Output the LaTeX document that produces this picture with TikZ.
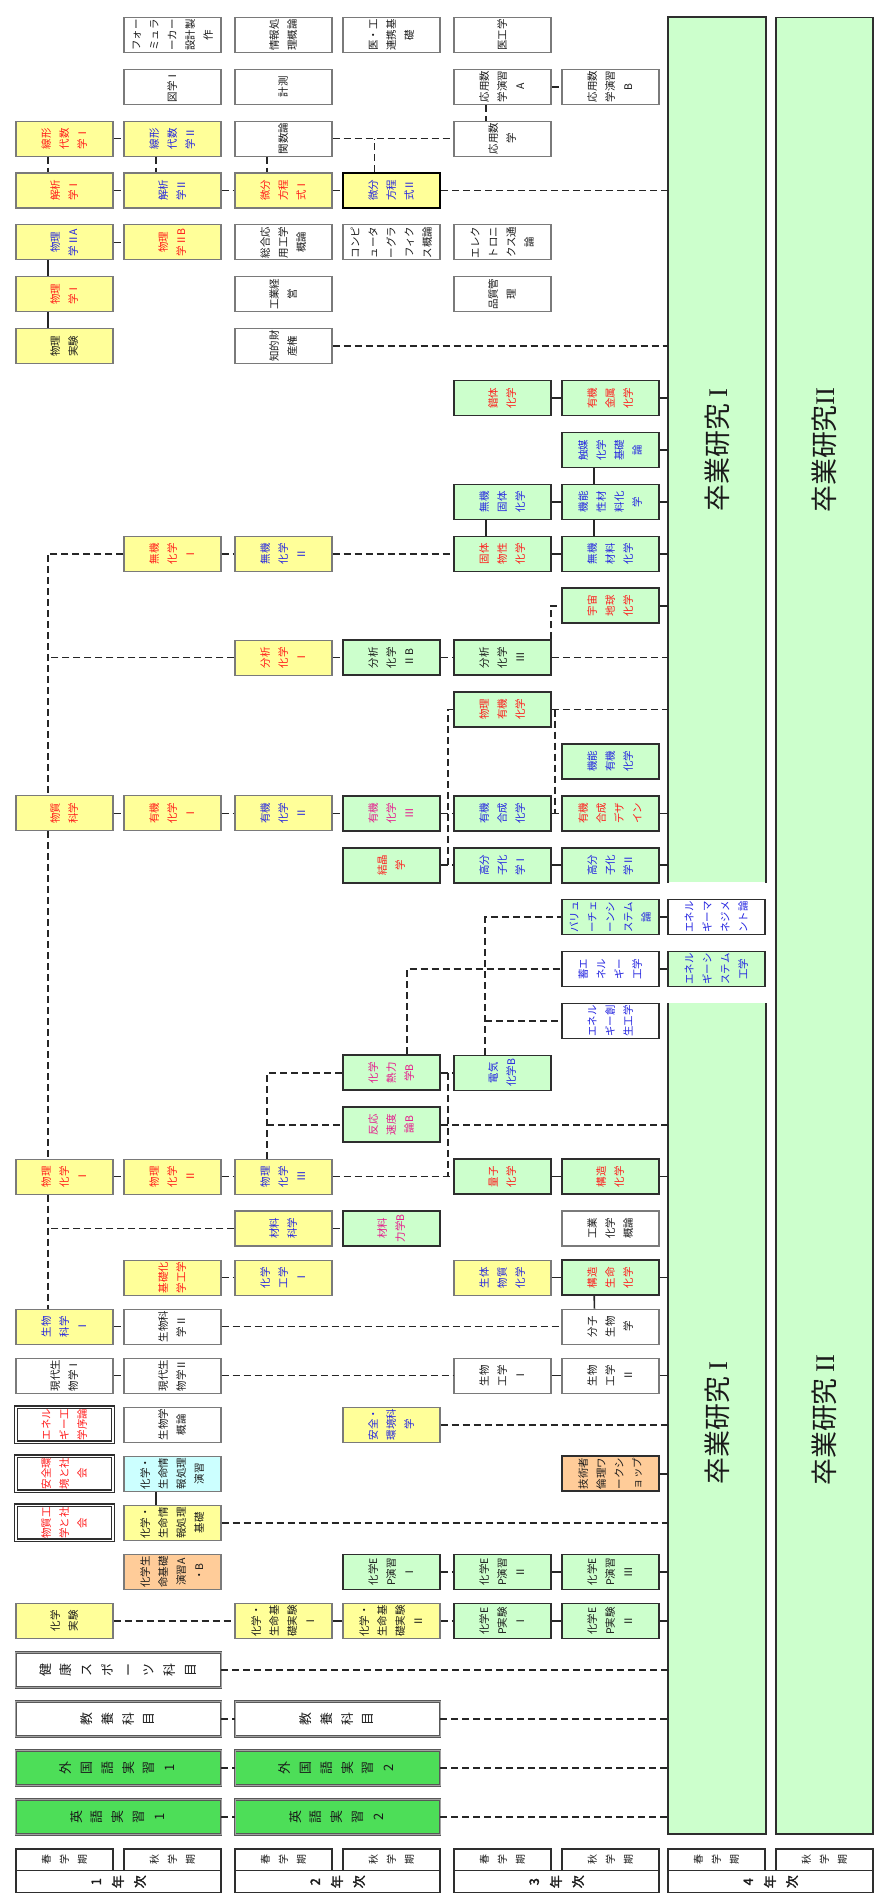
\documentclass[tikz,border=0pt]{standalone}
\usepackage{fontspec}
\setmainfont{Noto Sans CJK JP}[AutoFakeBold=2]
\newfontfamily\lserif{Liberation Serif}
\usepackage{graphicx}
\usetikzlibrary{calc}
\definecolor{cY}{HTML}{FFFF99}
\definecolor{cG}{HTML}{CCFFCC}
\definecolor{cGG}{HTML}{4DDE58}
\definecolor{cC}{HTML}{CCFFFF}
\definecolor{cO}{HTML}{FFCC99}
\definecolor{cR}{HTML}{FF1A1A}
\definecolor{cB}{HTML}{2424E0}
\definecolor{cM}{HTML}{E6198C}
\definecolor{cGray}{HTML}{7A7A7A}
\definecolor{cDark}{HTML}{2E2E2E}
\definecolor{cLine}{HTML}{262626}
\definecolor{cTxt}{HTML}{1A1A1A}
\newcommand\smallf{\fontsize{10.5}{11}\selectfont\def\arraystretch{1.64}}
\newcommand\langf{\fontsize{13}{13}\selectfont\def\arraystretch{1.6}}
\newcommand\hdf{\fontsize{10}{11}\selectfont\def\arraystretch{1.64}}
\newcommand\yrf{\fontsize{13}{13}\selectfont\bfseries\def\arraystretch{1.7}}
\newcommand\tx[1]{\rotatebox{90}{\begin{tabular}{@{}c@{}}#1\end{tabular}}}
\newcommand\cbx[5]{%
  \pgfmathsetmacro\bxx{{16,124,235,343,454,562,668,776}[#2]+48.5}%
  \pgfmathsetmacro\byy{ifthenelse(#3<24,17.3+51.9*#3,1211+49.05*(#3-23))+17.5}%
  \node[#4] (#1) at (\bxx,\byy) {\tx{#5}};}
\newcommand\wbx[5]{%
  \pgfmathsetmacro\bxx{{118.5,337.5}[#2]}%
  \pgfmathsetmacro\byy{1211+49.05*(#3-23)+17.5}%
  \node[#4] (#1) at (\bxx,\byy) {\tx{#5}};}
\tikzset{
  bx/.style={minimum width=97bp, minimum height=35bp, inner sep=0pt, font=\smallf, text=cTxt, line width=1.1bp},
  yb/.style={bx, fill=cY, draw=cGray},
  wb/.style={bx, fill=white, draw=cGray},
  wbd/.style={bx, fill=white, draw=cDark, line width=1.6bp},
  gb/.style={bx, fill=cG, draw=cDark, line width=1.6bp},
  gbt/.style={bx, fill=cG, draw=cDark, line width=2.2bp},
  db/.style={bx, fill=white, draw=cDark, double=white, double distance=1.4bp, line width=1.2bp},
  lb/.style={bx, minimum width=205bp, font=\langf, draw=cDark!80, double=cGray!70, double distance=1bp, line width=0.9bp},
  hd/.style={inner sep=0pt, fill=white, draw=cDark, line width=1.2bp, text=cTxt},
  tr/.style={text=cR}, tb/.style={text=cB}, tm/.style={text=cM},
  dl/.style={draw=cLine, line width=1.6bp, dash pattern=on 7bp off 4bp},
  sl/.style={draw=cLine, line width=1.6bp},
  big/.style={rotate=90, font=\fontsize{27}{28}\selectfont, text=cTxt, inner sep=0pt}
}
\begin{document}
\begin{tikzpicture}[x=1bp,y=-1bp]
\useasboundingbox (0,0) rectangle (875,1899);
\coordinate (spine) at (48.5,0);
\coordinate (g34) at (448,0);
\coordinate (g45) at (555,0);
% graduation research
\node[fill=cG, minimum width=98bp, minimum height=865bp, inner sep=0pt] (s1a) at (717,449.8) {};
\node[fill=cG, minimum width=98bp, minimum height=830.7bp, inner sep=0pt] (s1b) at (717,1418.65) {};
\node[fill=cG, draw=cDark, line width=1.5bp, minimum width=97bp, minimum height=1816.7bp, inner sep=0pt] (s2) at (824.5,925.65) {};
\draw[cDark, line width=1.5bp] (s1a.south west) -- (s1a.north west) -- (s1a.north east) -- (s1a.south east);
\draw[cDark, line width=1.5bp] (s1b.north west) -- (s1b.south west) -- (s1b.south east) -- (s1b.north east);
\node[big] (t1a) at (s1a) {卒業研究 {\lserif I}};
\node[big] (t1b) at (717,1423) {卒業研究 {\lserif I}};
\node[big] (t2a) at (824.5,450) {卒業研究{\lserif II}};
\node[big] (t2b) at (824.5,1420) {卒業研究 {\lserif II}};
% row 0
\cbx{fo}{1}{0}{wb}{フォー\\ミュラ\\ーカー\\設計製\\作}
\cbx{jo}{2}{0}{wb}{情報処\\理概論}
\cbx{ik}{3}{0}{wb}{医・工\\連携基\\礎}
\cbx{ikg}{4}{0}{wb}{医工学}
% row 1
\cbx{zu}{1}{1}{wb}{図学Ⅰ}
\cbx{kei}{2}{1}{wb}{計測}
\cbx{oa}{4}{1}{wb}{応用数\\学演習\\A}
\cbx{ob}{5}{1}{wb}{応用数\\学演習\\B}
% row 2
\cbx{ls1}{0}{2}{yb,tr}{線形\\代数\\学Ⅰ}
\cbx{ls2}{1}{2}{yb,tb}{線形\\代数\\学Ⅱ}
\cbx{kan}{2}{2}{wb}{関数論}
\cbx{ou}{4}{2}{wb}{応用数\\学}
% row 3
\cbx{ka1}{0}{3}{yb,tr}{解析\\学Ⅰ}
\cbx{ka2}{1}{3}{yb,tb}{解析\\学Ⅱ}
\cbx{bi1}{2}{3}{yb,tr}{微分\\方程\\式Ⅰ}
\cbx{bi2}{3}{3}{yb,tb,draw=black,line width=2.2bp}{微分\\方程\\式Ⅱ}
% row 4
\cbx{bua}{0}{4}{yb,tb}{物理\\学ⅡA}
\cbx{bub}{1}{4}{yb,tr}{物理\\学ⅡB}
\cbx{sog}{2}{4}{wb}{総合応\\用工学\\概論}
\cbx{cg}{3}{4}{wb}{コンピ\\ュータ\\ーグラ\\フィク\\ス概論}
\cbx{ele}{4}{4}{wb}{エレク\\トロニ\\クス通\\論}
% row 5
\cbx{bu1}{0}{5}{yb,tr}{物理\\学Ⅰ}
\cbx{kog}{2}{5}{wb}{工業経\\営}
\cbx{hin}{4}{5}{wb}{品質管\\理}
% row 6
\cbx{bj}{0}{6}{yb}{物理\\実験}
\cbx{chi}{2}{6}{wb}{知的財\\産権}
% rows 7-11
\cbx{sakt}{4}{7}{gb,tr}{錯体\\化学}
\cbx{yuk}{5}{7}{gb,tr}{有機\\金属\\化学}
\cbx{sho}{5}{8}{gb,tb}{触媒\\化学\\基礎\\論}
\cbx{mk}{4}{9}{gb,tb}{無機\\固体\\化学}
\cbx{kns}{5}{9}{gb,tb}{機能\\性材\\料化\\学}
\cbx{mu1}{1}{10}{yb,tr}{無機\\化学\\Ⅰ}
\cbx{mu2}{2}{10}{yb,tb}{無機\\化学\\Ⅱ}
\cbx{kob}{4}{10}{gb,tr}{固体\\物性\\化学}
\cbx{mz}{5}{10}{gb,tb}{無機\\材料\\化学}
\cbx{uc}{5}{11}{gb,tr}{宇宙\\地球\\化学}
% row 12-16
\cbx{bn1}{2}{12}{yb,tr}{分析\\化学\\Ⅰ}
\cbx{bn2}{3}{12}{gbt}{分析\\化学\\ⅡB}
\cbx{bn3}{4}{12}{gb}{分析\\化学\\Ⅲ}
\cbx{bky}{4}{13}{gb,tr}{物理\\有機\\化学}
\cbx{kny}{5}{14}{gb,tb}{機能\\有機\\化学}
\cbx{bsk}{0}{15}{yb,tr}{物質\\科学}
\cbx{yu1}{1}{15}{yb,tr}{有機\\化学\\Ⅰ}
\cbx{yu2}{2}{15}{yb,tb}{有機\\化学\\Ⅱ}
\cbx{yu3}{3}{15}{gbt,tm}{有機\\化学\\Ⅲ}
\cbx{yg}{4}{15}{gb,tb}{有機\\合成\\化学}
\cbx{yd}{5}{15}{gb,tr}{有機\\合成\\デザ\\イン}
\cbx{kes}{3}{16}{gbt,tr}{結晶\\学}
\cbx{kb1}{4}{16}{gb,tb}{高分\\子化\\学Ⅰ}
\cbx{kb2}{5}{16}{gb,tb}{高分\\子化\\学Ⅱ}
% rows 17-21
\cbx{val}{5}{17}{gb,tb}{バリュ\\ーチェ\\ーンシ\\ステム\\論}
\cbx{emg}{6}{17}{wbd,tb}{エネル\\ギーマ\\ネジメ\\ント論}
\cbx{chk}{5}{18}{wbd,tb}{蓄エ\\ネル\\ギー\\工学}
\cbx{esy}{6}{18}{gb,tb}{エネル\\ギーシ\\ステム\\工学}
\cbx{eso}{5}{19}{wbd,tb}{エネル\\ギー創\\生工学}
\cbx{nr}{3}{20}{gbt,tm}{化学\\熱力\\学B}
\cbx{dk}{4}{20}{gb,tb}{電気\\化学B}
\cbx{hs}{3}{21}{gbt,tm}{反応\\速度\\論B}
% row 22-23
\cbx{bk1}{0}{22}{yb,tr}{物理\\化学\\Ⅰ}
\cbx{bk2}{1}{22}{yb,tr}{物理\\化学\\Ⅱ}
\cbx{bk3}{2}{22}{yb,tb}{物理\\化学\\Ⅲ}
\cbx{rs}{4}{22}{gb,tr}{量子\\化学}
\cbx{kz}{5}{22}{gb,tr}{構造\\化学}
\cbx{zk}{2}{23}{yb,tb}{材料\\科学}
\cbx{zr}{3}{23}{gbt,tm}{材料\\力学B}
\cbx{kgg}{5}{23}{wb}{工業\\化学\\概論}
% rows 24-26
\cbx{kkk}{1}{24}{yb,tr}{基礎化\\学工学}
\cbx{kk1}{2}{24}{yb,tb}{化学\\工学\\Ⅰ}
\cbx{sbk}{4}{24}{yb,tb}{生体\\物質\\化学}
\cbx{ksm}{5}{24}{gb,tr}{構造\\生命\\化学}
\cbx{sb1}{0}{25}{yb,tb}{生物\\科学\\Ⅰ}
\cbx{sb2}{1}{25}{wb}{生物科\\学Ⅱ}
\cbx{bs}{5}{25}{wb}{分子\\生物\\学}
\cbx{gd1}{0}{26}{wb}{現代生\\物学Ⅰ}
\cbx{gd2}{1}{26}{wb}{現代生\\物学Ⅱ}
\cbx{sko1}{4}{26}{wb}{生物\\工学\\Ⅰ}
\cbx{sko2}{5}{26}{wb}{生物\\工学\\Ⅱ}
% rows 27-31
\cbx{ejo}{0}{27}{db,tr}{エネル\\ギー工\\学序論}
\cbx{sbg}{1}{27}{wb}{生物学\\概論}
\cbx{akk}{3}{27}{yb,tb}{安全・\\環境科\\学}
\cbx{aks}{0}{28}{db,tr}{安全環\\境と社\\会}
\cbx{jse}{1}{28}{bx,fill=cC,draw=cGray}{化学・\\生命情\\報処理\\演習}
\cbx{gr}{5}{28}{bx,fill=cO,draw=cDark,line width=1.6bp}{技術者\\倫理ワ\\ークシ\\ョップ}
\cbx{bks}{0}{29}{db,tr}{物質工\\学と社\\会}
\cbx{jsk}{1}{29}{yb}{化学・\\生命情\\報処理\\基礎}
\cbx{kse}{1}{30}{bx,fill=cO,draw=cGray}{化学生\\命基礎\\演習A\\・B}
\cbx{ep1}{3}{30}{gb}{化学E\\P演習\\Ⅰ}
\cbx{ep2}{4}{30}{gb}{化学E\\P演習\\Ⅱ}
\cbx{ep3}{5}{30}{gb}{化学E\\P演習\\Ⅲ}
\cbx{kj}{0}{31}{yb}{化学\\実験}
\cbx{kj1}{2}{31}{yb}{化学・\\生命基\\礎実験\\Ⅰ}
\cbx{kj2}{3}{31}{yb}{化学・\\生命基\\礎実験\\Ⅱ}
\cbx{ej1}{4}{31}{gb}{化学E\\P実験\\Ⅰ}
\cbx{ej2}{5}{31}{gb}{化学E\\P実験\\Ⅱ}
% wide rows
\wbx{hsp}{0}{32}{lb,fill=white}{健\\康\\ス\\ポ\\ー\\ツ\\科\\目}
\wbx{ky1}{0}{33}{lb,fill=white}{教\\養\\科\\目}
\wbx{ky2}{1}{33}{lb,fill=white}{教\\養\\科\\目}
\wbx{gg1}{0}{34}{lb,fill=cGG}{外\\国\\語\\実\\習\\1}
\wbx{gg2}{1}{34}{lb,fill=cGG}{外\\国\\語\\実\\習\\2}
\wbx{eg1}{0}{35}{lb,fill=cGG}{英\\語\\実\\習\\1}
\wbx{eg2}{1}{35}{lb,fill=cGG}{英\\語\\実\\習\\2}
% header
\foreach \sx/\ax/\yc/\yw/\yn in {16/124/118.5/205/1,235/343/337.5/205/2,454/562/556.5/205/3,668/776/770.5/205/4}{
  \node[hd, minimum width=97bp, minimum height=21.7bp, font=\hdf] (hs\yn) at (\sx+48.5,1859.9) {\tx{春\\学\\期}};
  \node[hd, minimum width=97bp, minimum height=21.7bp, font=\hdf] (ha\yn) at (\ax+48.5,1859.9) {\tx{秋\\学\\期}};
  \node[hd, minimum width=\yw bp, minimum height=22bp, font=\yrf] (hy\yn) at (\yc,1881.7) {\tx{\yn\\年\\次}};
}
% connectors
\draw[dl] (oa.east) -- (ob.west);
\draw[dl] ([xshift=32.5bp]oa.south west) -- ([xshift=32.5bp]ou.north west);
\draw[dl] (ls1.east) -- (ls2.west);
\draw[dl] (kan.east) -- (ou.west);
\draw[dl] ([xshift=32.5bp]bi2.north west) -- ([xshift=32.5bp]bi2.north west |- kan.east);
\draw[dl] ([xshift=32.5bp]ls1.south west) -- ([xshift=32.5bp]ka1.north west);
\draw[dl] ([xshift=32.5bp]ls2.south west) -- ([xshift=32.5bp]ka2.north west);
\draw[dl] ([xshift=32.5bp]kan.south west) -- ([xshift=32.5bp]bi1.north west);
\draw[dl] (ka1.east) -- (ka2.west);
\draw[dl] (ka2.east) -- (bi1.west);
\draw[dl] (bi1.east) -- (bi2.west);
\draw[dl] (bi2.east) -- (bi2.east -| s1a.west);
\draw[dl] (bua.east) -- (bub.west);
\draw[sl] ([xshift=32.5bp]bua.south west) -- ([xshift=32.5bp]bu1.north west);
\draw[sl] ([xshift=32.5bp]bu1.south west) -- ([xshift=32.5bp]bj.north west);
\draw[dl] (chi.east) -- (chi.east -| s1a.west);
\draw[sl] (sakt.east) -- (yuk.west);
\draw[sl] (yuk.east) -- (yuk.east -| s1a.west);
\draw[sl] (sho.east) -- (sho.east -| s1a.west);
\draw[sl] ([xshift=33bp]sho.south west) -- ([xshift=33bp]kns.north west);
\draw[sl] (mk.east) -- (kns.west);
\draw[sl] (kns.east) -- (kns.east -| s1a.west);
\draw[sl] ([xshift=32.5bp]mk.south west) -- ([xshift=32.5bp]kob.north west);
\draw[sl] ([xshift=33bp]kns.south west) -- ([xshift=33bp]mz.north west);
\draw[dl] (mu1.east) -- (mu2.west);
\draw[dl] (mu2.east) -- (kob.west);
\draw[sl] (kob.east) -- (mz.west);
\draw[sl] (mz.east) -- (mz.east -| s1a.west);
\draw[dl] (mu1.west) -| ([xshift=32.5bp]bsk.north west);
\draw[sl] (uc.east) -- (uc.east -| s1a.west);
\draw[dl] ([xshift=-1bp]bn3.north east) |- (uc.west);
\draw[dl] (bn1.west) -- (bn1.west -| spine);
\draw[dl] (bn1.east) -- (bn2.west);
\draw[dl] (bn2.east) -- (bn3.west);
\draw[dl] (bn3.east) -- (bn3.east -| s1a.west);
\draw[dl] (bky.east) -- (bky.east -| s1a.west);
\draw[dl] (g45 |- bky.east) |- (yd.west);
\draw[dl] (bky.west) -| (g34 |- kes.east);
\draw[dl] (bsk.east) -- (yu1.west);
\draw[dl] (yu1.east) -- (yu2.west);
\draw[dl] (yu2.east) -- (yu3.west);
\draw[dl] (yu3.east) -- (yg.west);
\draw[dl] (yg.east) -- (yd.west);
\draw[sl] (yd.east) -- (yd.east -| s1a.west);
\draw[dl] (kes.east) -- (kb1.west);
\draw[sl] (kb1.east) -- (kb2.west);
\draw[sl] (kb2.east) -- (kb2.east -| s1a.west);
\draw[sl] (val.east) -- (emg.west);
\draw[dl] ([xshift=32bp]dk.north west) |- (val.west);
\draw[dl] ([xshift=32bp]dk.north west |- eso.west) -- (eso.west);
\draw[sl] (chk.east) -- (esy.west);
\draw[dl] ([xshift=65bp]nr.north west) |- (chk.west);
\draw[dl] ([xshift=32.5bp]bk3.north west) |- (nr.west);
\draw[dl] ([xshift=32.5bp]bk3.north west |- hs.west) -- (hs.west);
\draw[dl] (nr.east) -- (dk.west);
\draw[dl] (g34 |- nr.east) |- (rs.west);
\draw[dl] (hs.east) -- (hs.east -| s1b.west);
\draw[dl] (bk1.east) -- (bk2.west);
\draw[dl] (bk2.east) -- (bk3.west);
\draw[dl] (bk3.east) -- (rs.west);
\draw[sl] (rs.east) -- (kz.west);
\draw[sl] (kz.east) -- (kz.east -| s1b.west);
\draw[dl] ([xshift=32.5bp]bsk.south west) -- ([xshift=32.5bp]bk1.north west);
\draw[dl] ([xshift=32.5bp]bk1.south west) -- ([xshift=32.5bp]sb1.north west);
\draw[dl] (zk.west) -- (zk.west -| spine);
\draw[dl] (zk.east) -- (zr.west);
\draw[dl] (kkk.east) -- (kk1.west);
\draw[sl] (sbk.east) -- (ksm.west);
\draw[sl] (ksm.east) -- (ksm.east -| s1b.west);
\draw[sl] ([xshift=33bp]ksm.south west) -- ([xshift=33bp]bs.north west);
\draw[dl] (sb1.east) -- (sb2.west);
\draw[dl] (sb2.east) -- (bs.west);
\draw[dl] (gd1.east) -- (gd2.west);
\draw[dl] (gd2.east) -- (sko1.west);
\draw[sl] (sko1.east) -- (sko2.west);
\draw[sl] (sko2.east) -- (sko2.east -| s1b.west);
\draw[dl] (akk.east) -- (akk.east -| s1b.west);
\draw[sl] (gr.east) -- (gr.east -| s1b.west);
\draw[sl] ([xshift=32.5bp]jse.south west) -- ([xshift=32.5bp]jsk.north west);
\draw[dl] (jsk.east) -- (jsk.east -| s1b.west);
\draw[dl] (ep1.east) -- (ep2.west);
\draw[sl] (ep2.east) -- (ep3.west);
\draw[sl] (ep3.east) -- (ep3.east -| s1b.west);
\draw[dl] (kj.east) -- (kj1.west);
\draw[sl] (kj1.east) -- (kj2.west);
\draw[dl] (kj2.east) -- (ej1.west);
\draw[sl] (ej1.east) -- (ej2.west);
\draw[sl] (ej2.east) -- (ej2.east -| s1b.west);
\draw[dl] (hsp.east) -- (hsp.east -| s1b.west);
\draw[dl] (ky1.east) -- (ky2.west);
\draw[dl] (ky2.east) -- (ky2.east -| s1b.west);
\draw[dl] (gg1.east) -- (gg2.west);
\draw[dl] (gg2.east) -- (gg2.east -| s1b.west);
\draw[dl] (eg1.east) -- (eg2.west);
\draw[dl] (eg2.east) -- (eg2.east -| s1b.west);
\end{tikzpicture}
\end{document}
